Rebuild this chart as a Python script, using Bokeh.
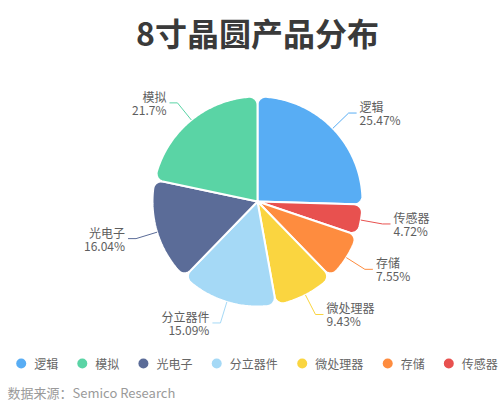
import numpy as np
from bokeh.plotting import figure
from bokeh.models import Range1d
from bokeh.core.properties import value
from bokeh.embed import file_html
from bokeh.resources import INLINE

# ---- data (clockwise from 12 o'clock) ----
categories = ["逻辑", "传感器", "存储", "微处理器", "分立器件", "光电子", "模拟"]
shares = [25.47, 4.72, 7.55, 9.43, 15.09, 16.04, 21.7]
colors = ["#58adf4", "#e8514f", "#fe8c3f", "#fad540", "#a5d9f6", "#5b6c98", "#5ad4a5"]
legend_order = ["逻辑", "模拟", "光电子", "分立器件", "微处理器", "存储", "传感器"]

title = "8寸晶圆产品分布"
source_note = "数据来源：Semico Research"

FONT = "Noto Sans CJK SC"

W, H = 500, 403
p = figure(width=W, height=H, output_backend="svg", toolbar_location=None,
           x_range=Range1d(0, W), y_range=Range1d(H, 0),
           min_border=0, outline_line_color=None)
p.axis.visible = False
p.grid.visible = False

cx, cy, R, c = 257.0, 201.0, 105.0, 8.0


def u(t):
    return np.sin(t), -np.cos(t)


def pt(center, r, t):
    ux, uy = u(t)
    return center[0] + r * ux, center[1] + r * uy


def slice_path(s, e):
    phi = np.arcsin(c / (R - c))
    xs, ys = [cx], [cy]
    cc = pt((cx, cy), R - c, s + phi)
    for t in np.linspace(s - np.pi / 2, s + phi, 12):
        x, y = pt(cc, c, t); xs.append(x); ys.append(y)
    for t in np.linspace(s + phi, e - phi, max(8, int((e - s) * 60))):
        x, y = pt((cx, cy), R, t); xs.append(x); ys.append(y)
    cc = pt((cx, cy), R - c, e - phi)
    for t in np.linspace(e - phi, e + np.pi / 2, 12):
        x, y = pt(cc, c, t); xs.append(x); ys.append(y)
    xs.append(cx); ys.append(cy)
    return xs, ys


total = sum(shares)
angles = np.cumsum([0] + [v / total * 2 * np.pi for v in shares])

pxs, pys = [], []
for i in range(len(categories)):
    xs, ys = slice_path(angles[i], angles[i + 1])
    pxs.append(xs); pys.append(ys)
p.patches(pxs, pys, fill_color=colors, line_color="white", line_width=2)

# labels with leader lines
L1, L2, GAP = 22, 8, 3
for i, (name, v) in enumerate(zip(categories, shares)):
    m = (angles[i] + angles[i + 1]) / 2
    x0, y0 = pt((cx, cy), R, m)
    x1, y1 = pt((cx, cy), R + L1, m)
    right = np.sin(m) >= 0
    x2 = x1 + (L2 if right else -L2)
    p.line([x0, x1, x2], [y0, y1, y1], line_color=colors[i], line_width=1)
    tx = x2 + (GAP if right else -GAP)
    align = "left" if right else "right"
    p.text([tx], [y1 - 6.5], text=[name], text_align=align, text_baseline="middle",
           text_font=value(FONT), text_font_size="12px", text_color="#5e5e5e")
    p.text([tx], [y1 + 6.5], text=[f"{v}%"], text_align=align, text_baseline="middle",
           text_font=value(FONT), text_font_size="12px", text_color="#5e5e5e")

# title
p.text([257], [31], text=[title], text_align="center", text_baseline="middle",
       text_font=value(FONT), text_font_size="32px", text_font_style="bold",
       text_color="#3a3a3a")

# legend
lx, ly = 20.7, 363
cw = 12.2
for name in legend_order:
    col = colors[categories.index(name)]
    p.scatter([lx], [ly], size=10, fill_color=col, line_color=None)
    p.text([lx + 13], [ly], text=[name], text_align="left", text_baseline="middle",
           text_font=value(FONT), text_font_size="12px", text_color="#666666")
    lx = lx + 13 + len(name) * cw + 23.7

# source
p.text([7], [392], text=[source_note], text_align="left", text_baseline="middle",
       text_font=value(FONT), text_font_size="13px", text_color="#9a9a9a")

open("out.html", "w").write(file_html(p, INLINE))
